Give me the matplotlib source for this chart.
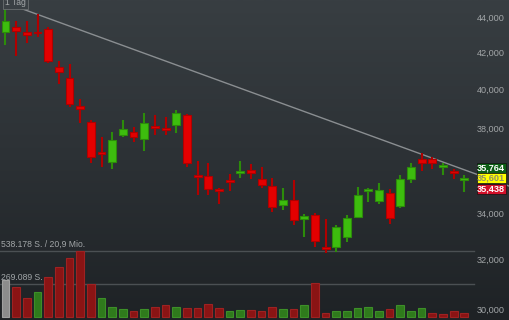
import matplotlib
matplotlib.use("Agg")
import matplotlib.pyplot as plt
import matplotlib.transforms as mtransforms
from matplotlib.colors import LinearSegmentedColormap
from matplotlib.ticker import FixedLocator, NullLocator, FuncFormatter
import numpy as np

plt.rcParams['font.family'] = ['Liberation Sans', 'DejaVu Sans']

# daily OHLC (index 0 = oldest)
opens = [43159, 43444, 43159, 43159, 43296, 41190, 40631, 39150, 38336, 36871,
         36390, 37703, 37836, 37506, 38151, 38036, 38186, 38705, 35775, 35700,
         35096, 35527, 35841, 35982, 35560, 35248, 34394, 34607, 33768, 33946,
         32550, 32524, 32954, 33857, 35004, 34575, 34913, 34335, 35588, 36534,
         36505, 36152, 35963, 35527]
highs = [44990, 43787, 43787, 44156, 43409, 41547, 41368, 39496, 38437, 37575,
         37852, 38437, 38071, 38776, 38705, 38604, 38945, 38741, 36438, 36314,
         35156, 35808, 36409, 36281, 36124, 35620, 35142, 35527, 33977, 34035,
         33741, 33477, 33932, 35188, 35142, 35373, 35096, 35761, 36342, 36794,
         36630, 36314, 36029, 35761]
lows = [42413, 41821, 42541, 42843, 41406, 40280, 39114, 38271, 36314, 36152,
        36029, 37575, 37344, 36920, 37703, 37703, 37802, 36152, 34821, 34821,
        34426, 35032, 35620, 35560, 35156, 34080, 34156, 33490, 32954, 32524,
        32295, 32337, 32738, 33830, 34530, 34426, 33534, 34232, 35373, 35963,
        36029, 35761, 35560, 34973]
closes = [43787, 43216, 42956, 43069, 41531, 40953, 39253, 38981, 36601, 36760,
          37442, 37971, 37575, 38301, 38036, 37936, 38776, 36314, 35681, 35124,
          35032, 35434, 35935, 35841, 35308, 34304, 34607, 33711, 33888, 32781,
          32439, 33389, 33799, 34835, 35096, 35064, 33786, 35588, 36124, 36342,
          36314, 36219, 35869, 35601]

volumes = [301700, 247100, 154900, 203900, 326200, 410200, 478700, 538178, 271500, 157400,
           79100, 62800, 51400, 67700, 79100, 97900, 79100, 75800, 75800, 103600,
           70900, 46500, 57100, 54600, 46500, 84000, 67700, 67700, 95400, 274800,
           30200, 51400, 48900, 73400, 84000, 48900, 65200, 95400, 48900, 70900,
           30200, 26900, 48900, 30200]
# 1 = up day, -1 = down day, 0 = no comparison
vol_dir = [0, -1, -1, 1, -1, -1, -1, -1, -1, 1,
           1, 1, -1, 1, -1, -1, 1, -1, -1, -1,
           -1, 1, 1, -1, -1, -1, 1, -1, 1, -1,
           -1, 1, 1, 1, 1, 1, -1, 1, 1, 1,
           -1, -1, -1, -1]

# 36,000 sits behind the price tags in the original, so it is not labelled
price_ticks = [30000, 32000, 34000, 38000, 40000, 42000, 44000]
vol_levels = [538178, 269089]
vol_labels = ["538.178 S. / 20,9 Mio.", "269.089 S."]

trend_x = [0, 47.3]
trend_y = [44830, 35225]

tag_values = ["35,764", "35,601", "35,438"]
last_price = closes[-1]

UP_FACE, UP_EDGE = "#3dbd0e", "#2c8c0a"
DN_FACE, DN_EDGE = "#e40000", "#b00000"
VOL_COL = {1: ("#2f7a1c", "#3d8f28"), -1: ("#8a1414", "#9e2222"), 0: ("#8c8c8c", "#a0a0a0")}
TXT = "#a2a6a8"

fig = plt.figure(figsize=(5.1, 3.2), dpi=100)

# background gradient
bg = fig.add_axes([0, 0, 1, 1], zorder=0)
cmap = LinearSegmentedColormap.from_list("bg", ["#1e2225", "#2c3135", "#383e42"])
bg.imshow(np.linspace(0, 1, 256).reshape(-1, 1), aspect="auto", cmap=cmap,
          origin="lower", extent=[0, 1, 0, 1])
bg.set_axis_off()

x = np.arange(len(closes))
xlim = (-0.515, 47.28)

# volume pane
axv = fig.add_axes([0, 0, 1, 1], zorder=1)
axv.patch.set_alpha(0)
axv.set_xlim(*xlim)
axv.set_ylim(-24460, 2584900)
axv.set_axis_off()
vfaces = [VOL_COL[d][0] for d in vol_dir]
vedges = [VOL_COL[d][1] for d in vol_dir]
axv.bar(x, volumes, width=0.72, color=vfaces, edgecolor=vedges, linewidth=0.8, zorder=3)
for lvl, lab in zip(vol_levels, vol_labels):
    axv.plot([xlim[0], 43.9], [lvl, lvl], color="#4b5053", lw=1.0, zorder=1)
    axv.annotate(lab, xy=(xlim[0], lvl), xytext=(0.5, 1.5), textcoords="offset points",
                 fontsize=6.2, color=TXT, va="bottom", ha="left", zorder=2)

# price pane
ax = fig.add_axes([0, 0, 1, 1], zorder=2)
ax.patch.set_alpha(0)
ax.set_yscale("log")
ax.set_xlim(*xlim)
ax.set_ylim(29564, 44993)
for s in ax.spines.values():
    s.set_visible(False)
ax.set_xticks([])
ax.yaxis.set_major_locator(FixedLocator(price_ticks))
ax.yaxis.set_minor_locator(NullLocator())
ax.yaxis.set_major_formatter(FuncFormatter(lambda v, p: f"{v:,.0f}"))
ax.tick_params(axis="y", left=False, right=False, labelleft=False, labelright=True,
               length=0, pad=-23.8, labelsize=6.6, labelcolor=TXT)

ax.plot(trend_x, trend_y, color="#8a8e91", lw=1.0, zorder=1)

o = np.array(opens)
c = np.array(closes)
up = c >= o
faces = np.where(up, UP_FACE, DN_FACE)
edges = np.where(up, UP_EDGE, DN_EDGE)
ax.vlines(x, lows, highs, colors=edges, linewidth=1.5, zorder=2)
ax.bar(x, np.abs(c - o), bottom=np.minimum(o, c), width=0.74, color=faces,
       edgecolor=edges, linewidth=0.8, zorder=3)

# price tags on the right, stacked
blend = mtransforms.blended_transform_factory(ax.transAxes, ax.transData)
tag_styles = [("#0c5e14", "white", 7.6), ("#ffff00", "#8f8f6a", 0), ("#d2102a", "white", -7.6)]
for val, (fc, tc, dy) in zip(tag_values, tag_styles):
    ax.annotate(val, xy=(0.963, last_price), xycoords=blend, xytext=(0, dy),
                textcoords="offset points", ha="center", va="center", fontsize=6.6,
                fontweight="bold", color=tc, zorder=5,
                bbox=dict(boxstyle="square,pad=0.06", fc=fc, ec="#111111", lw=0.5))

# period label, cut at the top edge
ax.text(0.03, 0.992, "1 Tag", transform=ax.transAxes, ha="center", va="center",
        fontsize=6.2, color=TXT, zorder=5,
        bbox=dict(boxstyle="square,pad=0.25", fc="#3a4044", ec="#6a6e70", lw=0.6))

fig.savefig("out.png", dpi=100)
